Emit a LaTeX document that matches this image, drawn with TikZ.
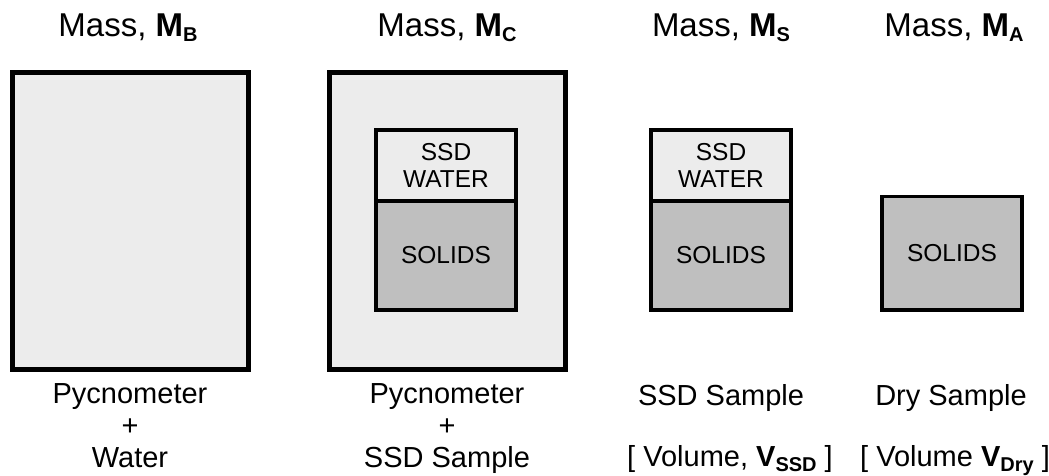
\documentclass[tikz,border=0pt]{standalone}
\usepackage{fontspec}
\setmainfont{Liberation Sans}
\usetikzlibrary{positioning}

\newcommand{\msub}[2]{\textbf{#1}\raisebox{-5pt}{\fontsize{20}{20}\selectfont\bfseries #2}}

\begin{document}
\begin{tikzpicture}[x=1pt,y=-1pt,
    every node/.style={inner sep=0pt, outer sep=0pt},
    heading/.style={anchor=base, font=\fontsize{33}{38}\selectfont},
    caption/.style={anchor=base, align=center, font=\fontsize{29}{32}\selectfont},
    vessel/.style={draw, line width=5pt, fill=gray!15, minimum width=236pt, minimum height=297pt},
    water/.style={draw, line width=3.5pt, fill=gray!15, minimum width=140pt, minimum height=71pt,
      align=center, font=\fontsize{24.5}{27}\selectfont},
    solids/.style={draw, line width=3.5pt, fill=black!25, minimum width=140pt,
      font=\fontsize{24.5}{27}\selectfont}]

  \useasboundingbox (0,0) rectangle (1049,475);

  % headings
  \node[heading] (massB) at (128,36) {Mass, \msub{M}{B}};
  \node[heading] (massC) at (447,36) {Mass, \msub{M}{C}};
  \node[heading] (massS) at (721,36) {Mass, \msub{M}{S}};
  \node[heading] (massA) at (954,36) {Mass, \msub{M}{A}};

  % pycnometers
  \node[vessel] (pycB) at (130,221) {};
  \node[vessel] (pycC) at (447.75,221) {};

  % samples
  \node[water] (waterC) at (446,165.5) {SSD\\WATER};
  \node[solids, minimum height=109pt, below=0pt of waterC] (solidsC) {SOLIDS};
  \node[water] (waterS) at (721,165.5) {SSD\\WATER};
  \node[solids, minimum height=109pt, below=0pt of waterS] (solidsS) {SOLIDS};
  \node[solids, minimum height=113.5pt] (solidsA) at (952,253.25) {SOLIDS};

  % captions
  \node[caption, anchor=north] (capB) at (130,384) {Pycnometer\\+\\Water};
  \node[caption, anchor=north] (capC) at (447,384) {Pycnometer\\+\\SSD Sample};
  \node[caption] (capS) at (721,405) {SSD Sample};
  \node[caption] (volS) at (730,466) {{[} Volume, \msub{V}{SSD} ]};
  \node[caption] (capA) at (951,405) {Dry Sample};
  \node[caption] (volA) at (955,466) {{[} Volume \msub{V}{Dry} ]};
\end{tikzpicture}
\end{document}
